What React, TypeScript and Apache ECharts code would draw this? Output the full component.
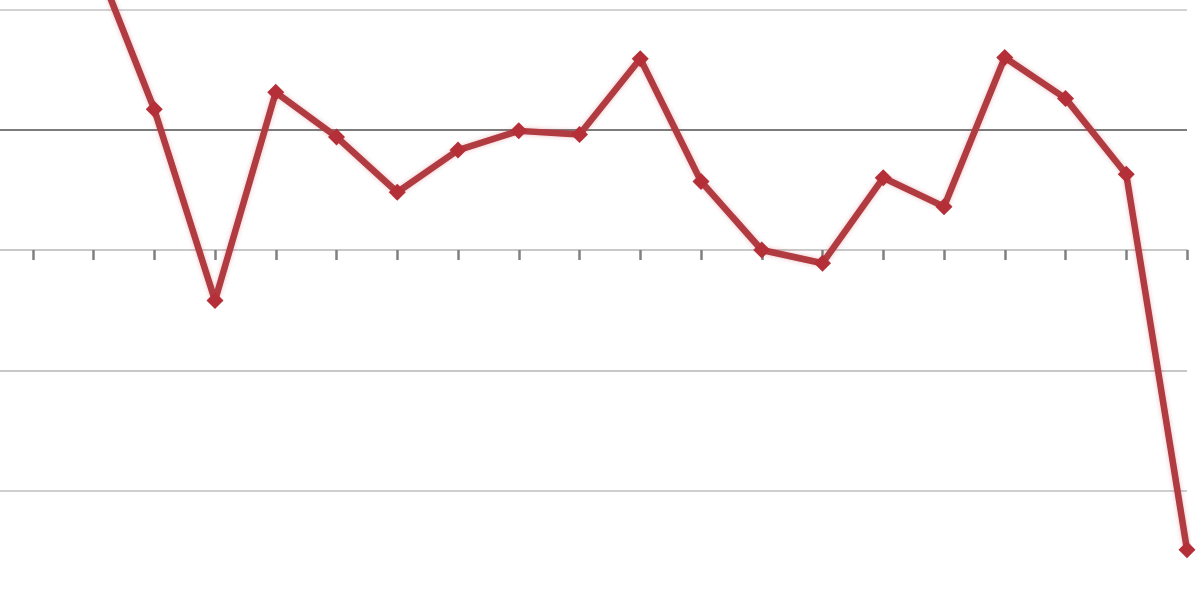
import * as echarts from "echarts";
import { useEffect, useRef } from "react";

// one leading category sits just off the left edge, as in the cropped original
const categories = [
  "1990", "1991", "1992", "1993", "1994", "1995", "1996", "1997", "1998", "1999", "2000",
  "2001", "2002", "2003", "2004", "2005", "2006", "2007", "2008", "2009", "2010",
];

const values: (number | null)[] = [
  null, 2.9, 2.45, 1.17, -0.42, 1.31, 0.94, 0.48, 0.83, 0.99, 0.96,
  1.59, 0.57, 0.0, -0.11, 0.6, 0.36, 1.6, 1.26, 0.63, -2.49,
];

const yMin = -3;
const yMax = 3;
const yStep = 1;
// split line colours, from yMin upwards; the line at 1 is drawn darker
const splitColors = ["#d0d0d0", "#cfcfcf", "#c8c8c8", "#cccccc", "#7c7c7c", "#d2d2d2", "#d2d2d2"];

export default function App() {
  const ref = useRef<HTMLDivElement | null>(null);

  useEffect(() => {
    if (!ref.current) return;
    const chart = echarts.init(ref.current, undefined, { renderer: "svg" });
    chart.setOption({
      animation: false,
      backgroundColor: "#ffffff",
      grid: { left: 0, right: 13, top: 0, bottom: 0 },
      xAxis: {
        type: "category",
        data: categories,
        boundaryGap: false,
        axisLine: { onZero: true, lineStyle: { color: "#c8c8c8", width: 2 } },
        axisTick: { show: true, length: 10, lineStyle: { color: "#808080", width: 2.5 } },
        axisLabel: { show: false },
        splitLine: { show: false },
      },
      yAxis: {
        type: "value",
        min: yMin,
        max: yMax,
        interval: yStep,
        axisLine: { show: false },
        axisTick: { show: false },
        axisLabel: { show: false },
        splitLine: { show: true, lineStyle: { color: splitColors, width: 2 } },
      },
      series: [
        {
          type: "line",
          data: values,
          clip: false,
          symbol: "diamond",
          symbolSize: 17,
          showSymbol: true,
          lineStyle: {
            color: "#b03a40",
            width: 6.5,
            shadowColor: "rgba(200, 60, 70, 0.35)",
            shadowBlur: 4,
          },
          itemStyle: { color: "#b52f39" },
        },
      ],
    });
    return () => chart.dispose();
  }, []);

  // the chart is larger than the window and shifted so that the window shows
  // the same crop as the reference
  return (
    <div
      ref={ref}
      style={{ position: "fixed", left: -28, top: -111, width: 1228, height: 722 }}
    />
  );
}
